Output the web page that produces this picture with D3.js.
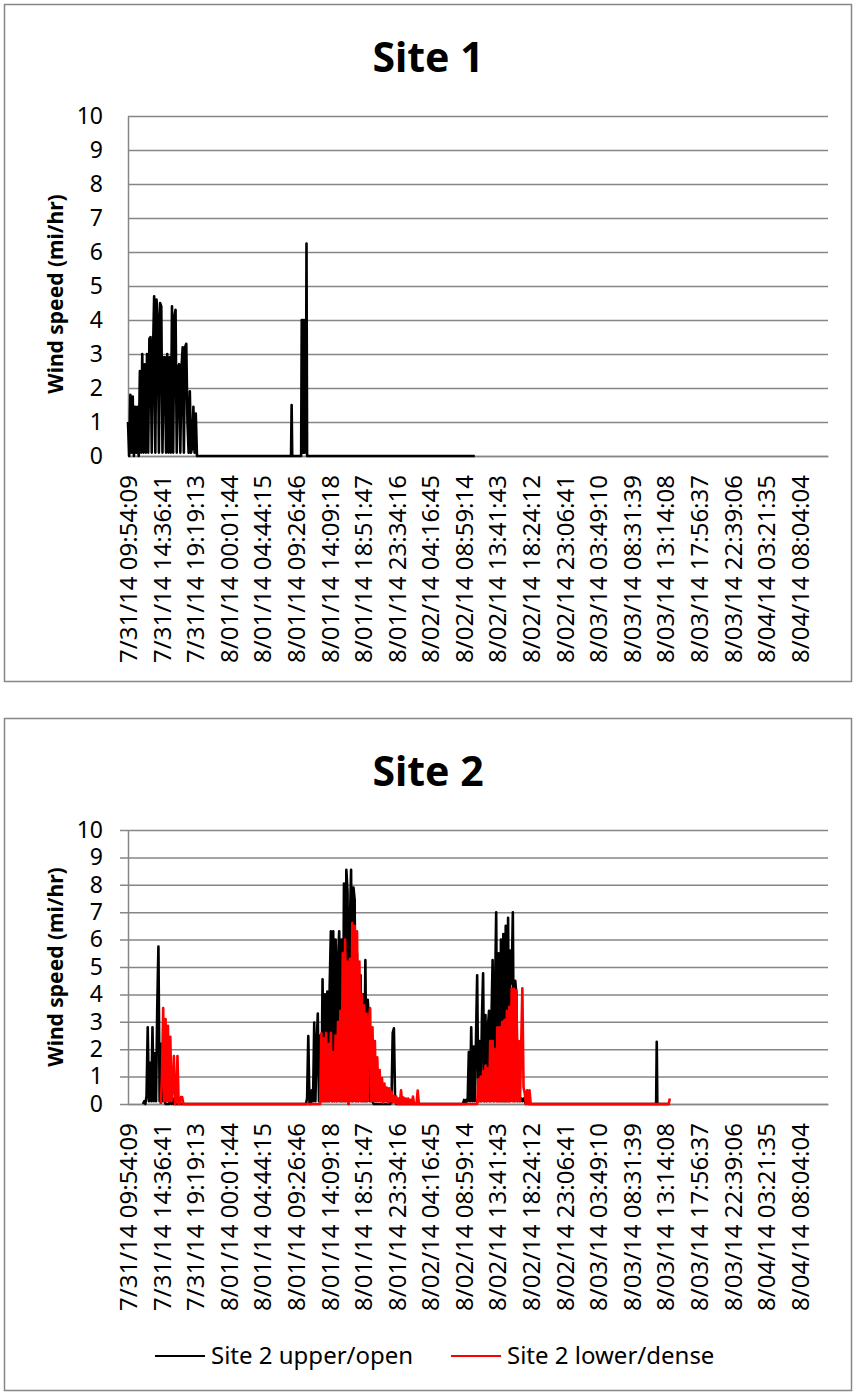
<!DOCTYPE html>
<html>
<head>
<meta charset="utf-8">
<script src="https://cdn.jsdelivr.net/npm/d3@7/dist/d3.min.js"></script>
<style>
    body { margin: 0; background: #fff; }
    text { font-family: "Noto Sans", "Open Sans", sans-serif; fill: #000; }
</style>
</head>
<body>
<div id="chart"></div>
<script>
//
// Wind speed line charts for Site 1 and Site 2
//

// category axis labels, same on both panels
var tickLabels = [
    "7/31/14 09:54:09", "7/31/14 14:36:41", "7/31/14 19:19:13", "8/01/14 00:01:44",
    "8/01/14 04:44:15", "8/01/14 09:26:46", "8/01/14 14:09:18", "8/01/14 18:51:47",
    "8/01/14 23:34:16", "8/02/14 04:16:45", "8/02/14 08:59:14", "8/02/14 13:41:43",
    "8/02/14 18:24:12", "8/02/14 23:06:41", "8/03/14 03:49:10", "8/03/14 08:31:39",
    "8/03/14 13:14:08", "8/03/14 17:56:37", "8/03/14 22:39:06", "8/04/14 03:21:35",
    "8/04/14 08:04:04"
];
var axisEnd = "8/04/14 12:00:00";
var speedTicks = [0, 1, 2, 3, 4, 5, 6, 7, 8, 9, 10];

// Site 1: 10 minute readings through the gusty first afternoon
var site1GustStart = "7/31/14 09:54";
var site1Gust = [
    1.0, 0, 1.8, 0.1, 1.75, 0, 1.45, 0.1, 1.45, 0,
    2.5, 0.1, 3.0, 0.1, 2.7, 0.1, 3.0, 0.1, 3.45, 3.5,
    0.1, 3.0, 4.7, 0.1, 4.6, 4.0, 0.1, 4.5, 4.4, 0.1,
    2.9, 2.9, 0.1, 3.0, 0.1, 2.9, 0.1, 4.4, 0.1, 4.1,
    4.3, 0.1, 2.6, 2.7, 0.1, 2.6, 3.2, 0.1, 3.2, 3.3,
    1.0, 0.1, 1.9, 0.1, 0.25, 1.45, 0.1, 1.25, 0
];
// Site 1: 5 minute readings, morning of 8/01
var site1BlockStart = "8/01/14 10:10";
var site1Block = [0, 4.0, 0.1, 4.0, 0.1, 4.0, 0.1, 4.0, 0.2, 6.25, 0];
// Site 1: single readings
var site1Readings = [
    ["8/01/14 08:45", 0], ["8/01/14 08:50", 1.5], ["8/01/14 08:55", 0],
    ["8/02/14 10:30", 0]
];

// Site 2 upper/open: 10 minute readings
var upperGust1Start = "7/31/14 12:00";
var upperGust1 = [
    0, 0.1, 0, 0.3, 2.8, 0.1, 1.5, 0.1, 2.8, 0.1,
    1.85, 0.1, 3.5, 5.75, 0.1, 2.2, 0.1, 0.9, 0.1, 0,
    0, 0, 0, 0.2, 0, 0.2, 0
];
var upperGust2Start = "8/01/14 10:50";
var upperGust2 = [
    0, 0.2, 2.48, 0, 0, 0.5, 0.1, 2.97, 0.1, 2.1,
    3.3, 0.1, 2.5, 0.1, 4.55, 0.1, 4.0, 0.1, 4.1, 0.1,
    4.3, 6.3, 0.1, 6.3, 0.1, 6.0, 0.1, 5.25, 6.3, 0.1,
    6.0, 0.1, 8.05, 0.1, 8.55, 7.75, 0, 6.6, 8.55, 0.1,
    7.9, 7.45, 0.1, 5.5, 0.1, 4.0, 4.7, 0.1, 4.0, 0.1,
    5.25, 0.1, 3.8, 3.1, 0.1, 1.0, 0.1, 0
];
var upperGust3Start = "8/01/14 22:40";
var upperGust3 = [0, 0.2, 2.6, 2.76, 0.1, 0];
var upperGust4Start = "8/02/14 08:50";
var upperGust4 = [
    0, 0.15, 0, 0.15, 0.1, 1.9, 0.1, 2.8, 0.1, 2.1,
    0.1, 2.3, 4.7, 0.1, 2.3, 0.1, 3.1, 4.77, 0.1, 3.25,
    0.1, 2.8, 3.4, 0.1, 3.07, 5.25, 0.1, 3.9, 7.0, 0.1,
    5.5, 0.1, 6.0, 0.1, 6.2, 0.1, 6.5, 0.1, 6.8, 0.1,
    5.6, 4.4, 7.0, 0.1, 4.5, 4.0, 0.1, 0.5, 0.1, 0.2,
    0.1, 0.2, 0.1, 0, 0.3, 0
];
var upperReadings = [
    ["8/03/14 11:55", 0], ["8/03/14 12:00", 2.27], ["8/03/14 12:05", 0],
    ["8/03/14 13:50", 0]
];

// Site 2 lower/dense: 10 minute readings
var lowerGust1Start = "7/31/14 14:30";
var lowerGust1 = [
    0, 1.0, 3.5, 0.1, 3.1, 0.1, 2.85, 0.1, 2.45, 0.1,
    0.6, 1.75, 0, 0.1, 1.75, 0, 0, 0.25, 0.25, 0
];
var lowerGust2Start = "8/01/14 12:50";
var lowerGust2 = [
    0, 2.58, 0.1, 2.4, 0.1, 2.6, 0.1, 2.2, 0.1, 2.6,
    0.1, 1.9, 0.1, 2.5, 0.1, 3.0, 0.1, 3.4, 0.1, 5.5,
    0.1, 6.0, 0.1, 5.2, 0, 5.3, 0.1, 6.6, 0.1, 6.5,
    0.1, 6.3, 0.1, 5.2, 0.1, 4.0, 0.1, 3.6, 0.1, 3.3,
    0.1, 3.1, 3.5, 0.1, 2.8, 0.1, 2.3, 0.1, 1.7, 0.1,
    1.24, 0.1, 0.95, 0.05, 0.75, 0.1, 0.6, 0.05, 0.57, 0.1,
    0.45, 0.05, 0.3, 0.05, 0.27, 0, 0.2, 0, 0.5, 0,
    0.24, 0, 0.2, 0, 0.2, 0, 0.15, 0, 0.27, 0,
    0, 0, 0.49, 0
];
var lowerGust3Start = "8/02/14 10:50";
var lowerGust3 = [
    0, 0.9, 0.1, 1.0, 0.1, 1.2, 0.1, 1.4, 0.1, 1.3,
    0.1, 2.3, 0.1, 2.3, 0.1, 2.0, 0.1, 2.8, 0.1, 2.8,
    0.1, 3.0, 0.1, 3.07, 0.1, 3.4, 0.1, 3.55, 0.1, 4.2,
    0.1, 4.2, 0.1, 4.15, 0.1, 2.3, 0.1, 2.1, 4.22, 0.6,
    0.4, 0, 0.5, 0, 0.5, 0
];
var lowerReadings = [
    ["8/03/14 13:40", 0], ["8/03/14 13:50", 0.2]
];

var parseTick = d3.timeParse("%m/%d/%y %H:%M:%S");
var parseTime = d3.timeParse("%m/%d/%y %H:%M");

var plotLeft = 128;
var plotRight = 828;
var gridColor = "#868686";

// readings taken at a fixed step (minutes) from a start time
function burst(start, stepMin, values) {
    var t0 = parseTime(start);
    return values.map(function (v, i) { return { t: d3.timeMinute.offset(t0, i * stepMin), v: v }; });
}

function readings(list) {
    return list.map(function (d) { return { t: parseTime(d[0]), v: d[1] }; });
}

function byTime(a, b) { return a.t - b.t; }

var site1Data = [].concat(
    burst(site1GustStart, 10, site1Gust),
    burst(site1BlockStart, 5, site1Block),
    readings(site1Readings)).sort(byTime);

var upperData = [].concat(
    burst(upperGust1Start, 10, upperGust1),
    burst(upperGust2Start, 10, upperGust2),
    burst(upperGust3Start, 10, upperGust3),
    burst(upperGust4Start, 10, upperGust4),
    readings(upperReadings)).sort(byTime);

var lowerData = [].concat(
    burst(lowerGust1Start, 10, lowerGust1),
    burst(lowerGust2Start, 10, lowerGust2),
    burst(lowerGust3Start, 10, lowerGust3),
    readings(lowerReadings)).sort(byTime);

var svg = d3.select("#chart")
    .append("svg")
    .attr("width", 856)
    .attr("height", 1393);

function drawPanel(p) {
    var g = svg.append("g");

    var x = d3.scaleTime()
        .domain([parseTick(tickLabels[0]), parseTick(axisEnd)])
        .range([plotLeft, plotRight]);
    var y = d3.scaleLinear().domain([0, 10]).range([p.plotBottom, p.plotTop]);

    // frame round the chart
    g.append("rect")
        .attr("x", 4.5)
        .attr("y", p.boxTop + 0.5)
        .attr("width", 847)
        .attr("height", p.boxBottom - p.boxTop)
        .attr("fill", "none")
        .attr("stroke", gridColor)
        .attr("stroke-width", 1.5);

    g.append("text")
        .attr("x", 428)
        .attr("y", p.titleY)
        .attr("text-anchor", "middle")
        .style("font-size", "41px")
        .style("font-weight", "bold")
        .text(p.title);

    // y-axis with gridlines
    var yAxis = d3.axisLeft(y)
        .tickValues(speedTicks)
        .tickSizeInner(p.tickOut)
        .tickSizeOuter(0)
        .tickPadding(25 - p.tickOut);
    var yg = g.append("g")
        .attr("transform", "translate(" + plotLeft + ",0)")
        .call(yAxis)
        .attr("font-size", null)
        .attr("font-family", null);
    yg.select(".domain").attr("stroke", gridColor).attr("stroke-width", 1.5);
    yg.selectAll(".tick line")
        .attr("x1", plotRight - plotLeft)
        .attr("x2", -p.tickOut)
        .attr("stroke", gridColor)
        .attr("stroke-width", 1.5);
    yg.selectAll(".tick text").style("font-size", "23px");

    // x-axis, labels turned on their side
    var tickDates = tickLabels.map(parseTick);
    var xAxis = d3.axisBottom(x)
        .tickValues(tickDates)
        .tickSize(0)
        .tickFormat(function (d, i) { return tickLabels[i]; });
    var xg = g.append("g")
        .attr("transform", "translate(0," + p.plotBottom + ")")
        .call(xAxis)
        .attr("font-size", null)
        .attr("font-family", null);
    xg.select(".domain").attr("stroke", gridColor).attr("stroke-width", 1.5);
    xg.selectAll(".tick text")
        .attr("x", 0)
        .attr("y", 0)
        .attr("dy", "0.35em")
        .attr("transform", "translate(0,19) rotate(-90)")
        .style("text-anchor", "end")
        .style("font-size", "24px");

    // y-axis title
    g.append("text")
        .attr("transform", "translate(63," + p.yTitleMid + ") rotate(-90)")
        .attr("text-anchor", "middle")
        .style("font-size", "21px")
        .style("font-weight", "bold")
        .text("Wind speed (mi/hr)");

    var line = d3.line()
        .x(function (d) { return x(d.t); })
        .y(function (d) { return y(d.v); });

    p.series.forEach(function (s) {
        g.append("path")
            .datum(s.data)
            .attr("d", line)
            .attr("fill", "none")
            .attr("stroke", s.color)
            .attr("stroke-width", 2.6)
            .attr("stroke-linejoin", "round");
    });

    // legend
    if (p.legend) {
        p.legend.forEach(function (s) {
            g.append("line")
                .attr("x1", s.x)
                .attr("x2", s.x + 50)
                .attr("y1", p.legendY)
                .attr("y2", p.legendY)
                .attr("stroke", s.color)
                .attr("stroke-width", 2);
            g.append("text")
                .attr("x", s.x + 56)
                .attr("y", p.legendY)
                .attr("dy", "0.35em")
                .style("font-size", "24px")
                .text(s.name);
        });
    }
}

drawPanel({
    title: "Site 1",
    boxTop: 4, boxBottom: 681, titleY: 72,
    plotTop: 116, plotBottom: 456, tickOut: 0, yTitleMid: 294,
    series: [{ data: site1Data, color: "#000000" }]
});

drawPanel({
    title: "Site 2",
    boxTop: 718, boxBottom: 1390, titleY: 786,
    plotTop: 830, plotBottom: 1104, tickOut: 8, yTitleMid: 967,
    series: [
        { data: upperData, color: "#000000" },
        { data: lowerData, color: "#ff0000" }
    ],
    legendY: 1356,
    legend: [
        { name: "Site 2 upper/open", color: "#000000", x: 155 },
        { name: "Site 2 lower/dense", color: "#ff0000", x: 451 }
    ]
});
</script>
</body>
</html>
